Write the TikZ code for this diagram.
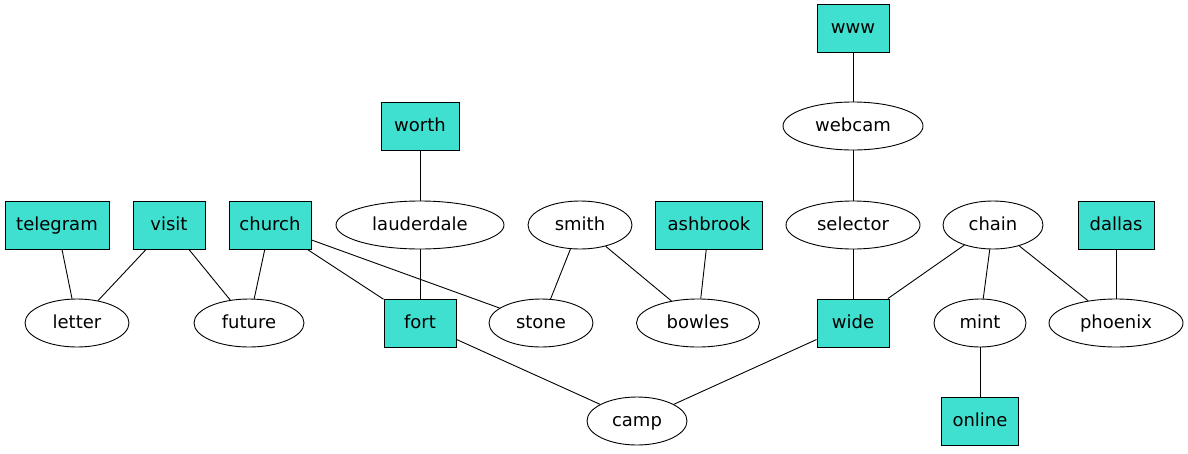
\documentclass[tikz,border=0pt]{standalone}
\usepackage{fontspec}
\setmainfont{DejaVu Sans}
\usetikzlibrary{shapes.geometric}

\begin{document}
\begin{tikzpicture}[x=1pt, y=-1pt,
    box/.style={draw, line width=0.9pt, fill=turq, rectangle, inner sep=0pt, minimum height=48pt, text height=12.5pt, text depth=2.5pt, font=\fontsize{18}{20}\selectfont},
    oval/.style={draw, line width=0.9pt, fill=white, ellipse, inner sep=0pt, minimum height=48pt, text height=12.5pt, text depth=2.5pt, font=\fontsize{18}{20}\selectfont},
    link/.style={line width=0.9pt}]
      \definecolor{turq}{HTML}{40E0D0}
      \useasboundingbox (0,0) rectangle (1188,453);
      % top rows
      \node[box, minimum width=72pt] (www) at (853,28) {www};
      \node[oval, minimum width=140pt] (webcam) at (853,126) {webcam};
      \node[box, minimum width=78pt] (worth) at (420,126) {worth};
      % middle row
      \node[box, minimum width=104pt] (telegram) at (57,225) {telegram};
      \node[box, minimum width=72pt] (visit) at (169,225) {visit};
      \node[box, minimum width=82pt] (church) at (270,225) {church};
      \node[oval, minimum width=168pt] (lauderdale) at (420,225) {lauderdale};
      \node[oval, minimum width=104pt] (smith) at (580,225) {smith};
      \node[box, minimum width=107pt] (ashbrook) at (709,225) {ashbrook};
      \node[oval, minimum width=134pt] (selector) at (853,225) {selector};
      \node[oval, minimum width=100pt] (chain) at (993,225) {chain};
      \node[box, minimum width=76pt] (dallas) at (1116,225) {dallas};
      % lower row
      \node[oval, minimum width=104pt] (letter) at (77,323) {letter};
      \node[oval, minimum width=110pt] (future) at (249,323) {future};
      \node[box, minimum width=72pt] (fort) at (420,323) {fort};
      \node[oval, minimum width=104pt] (stone) at (541,323) {stone};
      \node[oval, minimum width=123pt] (bowles) at (698,323) {bowles};
      \node[box, minimum width=72pt] (wide) at (853,323) {wide};
      \node[oval, minimum width=92pt] (mint) at (980,323) {mint};
      \node[oval, minimum width=134pt] (phoenix) at (1116,323) {phoenix};
      % bottom row
      \node[oval, minimum width=100pt] (camp) at (637,421) {camp};
      \node[box, minimum width=77pt] (online) at (980,421) {online};
      % edges
      \draw[link] (www) -- (webcam);
      \draw[link] (webcam) -- (selector);
      \draw[link] (selector) -- (wide);
      \draw[link] (worth) -- (lauderdale);
      \draw[link] (lauderdale) -- (fort);
      \draw[link] (telegram) -- (letter);
      \draw[link] (visit) -- (letter);
      \draw[link] (visit) -- (future);
      \draw[link] (church) -- (future);
      \draw[link] (church) -- (fort);
      \draw[link] (church) -- (stone);
      \draw[link] (smith) -- (stone);
      \draw[link] (smith) -- (bowles);
      \draw[link] (ashbrook) -- (bowles);
      \draw[link] (chain) -- (wide);
      \draw[link] (chain) -- (mint);
      \draw[link] (chain) -- (phoenix);
      \draw[link] (dallas) -- (phoenix);
      \draw[link] (mint) -- (online);
      \draw[link] (fort) -- (camp);
      \draw[link] (wide) -- (camp);
    \end{tikzpicture}
\end{document}
